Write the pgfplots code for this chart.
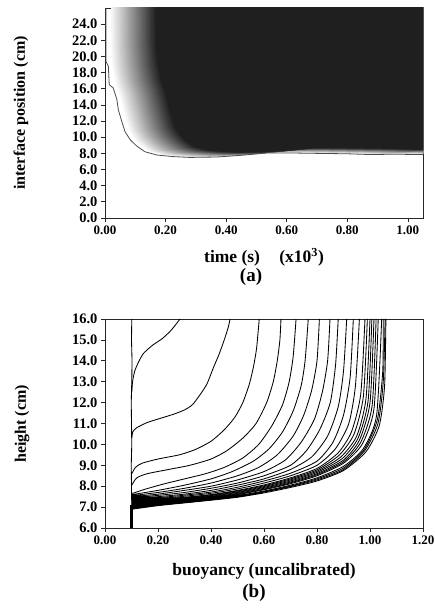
\documentclass[border=0pt]{standalone}
\usepackage{pgfplots}
\usepackage{pgfplotstable}
\pgfplotsset{compat=1.18}
\usepackage{fontspec}
\setmainfont{Liberation Serif}

% boundary of the dark (upper-layer) region, slightly smoothed
\pgfplotstableread{
x y
0.003 30
0.004 21
0.010 18.5
0.020 16.6
0.033 15.2
0.045 13.4
0.055 12.0
0.066 10.7
0.083 9.7
0.105 8.9
0.132 8.2
0.171 7.8
0.225 7.6
0.28 7.5
0.369 7.55
0.446 7.75
0.534 8.05
0.61 8.05
0.70 8.0
0.80 7.95
0.88 7.85
0.95 7.9
1.05 7.85
1.2 7.85
1.2 30
}\region

\pgfplotstableread{
x y
0.003 26
0.003 19.4
0.011 18.8
0.014 16.5
0.027 16.1
0.039 14.7
0.044 13.4
0.055 12.0
0.066 10.7
0.083 9.7
0.105 8.9
0.132 8.2
0.171 7.8
0.225 7.6
0.28 7.5
0.369 7.55
0.446 7.75
0.534 8.05
0.61 8.05
0.70 8.0
0.80 7.95
0.88 7.85
0.95 7.9
1.05 7.85
}\interface

\pgfplotsset{
  myaxis/.style={
    scale only axis, width=318pt,
    axis line style={line width=0.9pt, black!85},
    tick align=outside, xtick pos=bottom, ytick pos=left,
    major tick length=4pt,
    every tick/.style={black!85, line width=0.7pt},
    /pgf/number format/assume math mode=true,
    xticklabel style={font=\fontsize{13}{13}\selectfont\bfseries, /pgf/number format/.cd, fixed, fixed zerofill, precision=2},
    yticklabel style={font=\fontsize{14.5}{14.5}\selectfont\bfseries, /pgf/number format/.cd, fixed, fixed zerofill, precision=1},
    anchor=south west,
  },
  prof/.style={black, line width=0.85pt, smooth, tension=0.4},
}

\begin{document}
\begin{tikzpicture}
\useasboundingbox (0pt,0pt) rectangle (435pt,609pt);

% ---------- panel (a) ----------
\begin{axis}[myaxis, at={(105pt,391pt)}, height=210pt,
  xmin=0, xmax=1.05, ymin=0, ymax=26,
  xtick={0,0.2,0.4,0.6,0.8,1.0}, ytick={0,2,...,24}]
\pgfplotsinvokeforeach{1,...,22}{
  \addplot[draw=none, fill=black!\the\numexpr 4*#1\relax, xshift=#1*2.1pt+3pt, yshift=#1*0.22pt] table {\region};
}
\addplot[black!70, line width=0.8pt] table {\interface};
\end{axis}

\node[font=\fontsize{16}{16}\selectfont\bfseries, rotate=90] at (21pt,496pt) {interface position (cm)};
\node[font=\fontsize{17.5}{17.5}\selectfont\bfseries] at (264pt,352pt) {time (s)\hspace{1.1em}(x10\textsuperscript{3})};
\node[font=\fontsize{19}{19}\selectfont\bfseries] at (251pt,332pt) {(a)};

% ---------- panel (b) ----------
\begin{axis}[myaxis, at={(105pt,81pt)}, height=209pt,
  xmin=0, xmax=1.2, ymin=6, ymax=16,
  xtick={0,0.2,...,1.2}, ytick={6,7,...,16}]
% dense overlap of the early-time profiles
\addplot[fill=black, draw=none] coordinates {(0.1,6.9)(0.2,7.07)(0.3,7.2)(0.4,7.33)(0.5,7.47)(0.6,7.68)(0.5,7.6)(0.4,7.52)(0.3,7.47)(0.2,7.47)(0.14,7.55)(0.115,7.62)(0.1,7.62)};
\addplot[black, line width=0.85pt] coordinates {(0.100,6.0)(0.098,6.5)(0.101,7.0)(0.100,8.0)(0.099,9.0)(0.101,10.0)(0.100,11.0)(0.099,12.0)(0.101,13.0)(0.102,14.0)(0.100,15.0)(0.101,16.0)};
\addplot[black, line width=2.2pt] coordinates {(0.100,6.0)(0.100,7.1)};
\addplot[prof] coordinates {(0.101,12.5)(0.104,13.0)(0.112,13.5)(0.125,13.9)(0.145,14.35)(0.18,14.75)(0.215,15.05)(0.245,15.4)(0.265,15.7)(0.283,16.0)};
\addplot[prof] coordinates {(0.101,10.3)(0.105,10.6)(0.12,10.8)(0.16,11.05)(0.21,11.25)(0.26,11.45)(0.3,11.65)(0.33,11.9)(0.36,12.4)(0.385,12.9)(0.41,13.7)(0.43,14.3)(0.45,15.0)(0.465,15.6)(0.472,16.0)};
\addplot[prof] coordinates {(0.101,8.6)(0.115,8.9)(0.14,9.1)(0.2,9.3)(0.28,9.5)(0.34,9.75)(0.4,10.15)(0.45,10.7)(0.49,11.3)(0.52,12.0)(0.545,12.9)(0.56,13.7)(0.572,14.6)(0.582,16.0)};
\addplot[prof] coordinates {(0.101,8.05)(0.12,8.4)(0.16,8.6)(0.24,8.8)(0.32,9.0)(0.4,9.3)(0.46,9.7)(0.52,10.3)(0.57,11.0)(0.61,12.0)(0.635,13.0)(0.65,14.0)(0.66,15.0)(0.664,16.0)};
\addplot[prof] coordinates {(0.103,7.65)(0.15,7.85)(0.22,8.1)(0.3,8.35)(0.38,8.6)(0.45,8.9)(0.52,9.35)(0.58,10.0)(0.63,10.9)(0.67,11.9)(0.695,13.0)(0.71,14.2)(0.721,16.0)};
\addplot[prof] coordinates {(0.103,7.6)(0.2,7.8)(0.3,8.05)(0.4,8.35)(0.48,8.7)(0.56,9.2)(0.62,9.8)(0.67,10.6)(0.71,11.6)(0.74,12.8)(0.755,14.0)(0.767,16.0)};
\addplot[prof] coordinates {(0.103,7.55)(0.2,7.7)(0.3,7.9)(0.4,8.15)(0.5,8.5)(0.58,8.9)(0.65,9.5)(0.71,10.4)(0.75,11.4)(0.78,12.6)(0.8,14.0)(0.809,16.0)};
\addplot[prof] coordinates {(0.103,7.5)(0.2,7.62)(0.3,7.8)(0.4,8.0)(0.5,8.3)(0.6,8.7)(0.68,9.25)(0.74,10.1)(0.79,11.2)(0.82,12.5)(0.84,14.0)(0.849,16.0)};
\addplot[prof] coordinates {(0.103,7.45)(0.2,7.56)(0.3,7.7)(0.4,7.9)(0.5,8.15)(0.6,8.5)(0.7,9.0)(0.76,9.7)(0.81,10.7)(0.85,12.0)(0.87,13.8)(0.88,16.0)};
\addplot[prof] coordinates {(0.103,7.4)(0.2,7.5)(0.3,7.62)(0.4,7.8)(0.5,8.05)(0.6,8.35)(0.7,8.8)(0.78,9.4)(0.84,10.4)(0.88,11.8)(0.9,13.5)(0.912,16.0)};
\addplot[prof] coordinates {(0.103,7.35)(0.2,7.45)(0.3,7.57)(0.4,7.72)(0.5,7.95)(0.6,8.25)(0.7,8.62)(0.8,9.2)(0.86,10.1)(0.9,11.4)(0.925,13.2)(0.937,16.0)};
\addplot[prof] coordinates {(0.103,7.3)(0.2,7.4)(0.3,7.52)(0.4,7.66)(0.5,7.87)(0.6,8.15)(0.7,8.5)(0.8,9.0)(0.87,9.8)(0.92,11.0)(0.945,12.8)(0.96,16.0)};
\addplot[prof] coordinates {(0.103,7.25)(0.2,7.35)(0.3,7.47)(0.4,7.6)(0.5,7.8)(0.6,8.06)(0.7,8.4)(0.8,8.85)(0.88,9.6)(0.93,10.6)(0.965,12.4)(0.981,16.0)};
\addplot[prof] coordinates {(0.103,7.2)(0.2,7.32)(0.3,7.45)(0.4,7.58)(0.5,7.77)(0.6,8.02)(0.7,8.35)(0.8,8.78)(0.885,9.5)(0.94,10.5)(0.975,12.3)(0.99,16.0)};
\addplot[prof] coordinates {(0.103,7.15)(0.2,7.3)(0.3,7.42)(0.4,7.55)(0.5,7.73)(0.6,7.98)(0.7,8.3)(0.8,8.72)(0.89,9.4)(0.95,10.4)(0.985,12.2)(1.0,16.0)};
\addplot[prof] coordinates {(0.103,7.12)(0.2,7.27)(0.3,7.4)(0.4,7.52)(0.5,7.7)(0.6,7.94)(0.7,8.25)(0.8,8.66)(0.895,9.32)(0.955,10.3)(0.993,12.1)(1.007,16.0)};
\addplot[prof] coordinates {(0.103,7.1)(0.2,7.25)(0.3,7.37)(0.4,7.49)(0.5,7.66)(0.6,7.9)(0.7,8.2)(0.8,8.6)(0.9,9.25)(0.96,10.2)(1.0,12.0)(1.015,16.0)};
\addplot[prof] coordinates {(0.103,7.07)(0.2,7.22)(0.3,7.35)(0.4,7.47)(0.5,7.63)(0.6,7.86)(0.7,8.16)(0.8,8.55)(0.9,9.17)(0.965,10.1)(1.008,11.85)(1.023,16.0)};
\addplot[prof] coordinates {(0.103,7.05)(0.2,7.2)(0.3,7.32)(0.4,7.44)(0.5,7.6)(0.6,7.83)(0.7,8.12)(0.8,8.5)(0.9,9.1)(0.97,10.0)(1.015,11.7)(1.031,16.0)};
\addplot[prof] coordinates {(0.103,7.0)(0.2,7.15)(0.3,7.27)(0.4,7.39)(0.5,7.55)(0.6,7.77)(0.7,8.05)(0.8,8.4)(0.9,8.95)(0.975,9.8)(1.025,11.4)(1.044,16.0)};
\addplot[prof] coordinates {(0.103,6.97)(0.2,7.12)(0.3,7.25)(0.4,7.37)(0.5,7.52)(0.6,7.74)(0.7,8.01)(0.8,8.35)(0.9,8.87)(0.978,9.75)(1.028,11.2)(1.048,13.5)(1.05,16.0)};
\addplot[prof] coordinates {(0.103,6.95)(0.2,7.1)(0.3,7.22)(0.4,7.35)(0.5,7.5)(0.6,7.72)(0.7,7.98)(0.8,8.3)(0.9,8.8)(0.98,9.7)(1.03,11.0)(1.05,13.0)(1.057,16.0)};
\addplot[prof] coordinates {(0.103,6.9)(0.2,7.07)(0.3,7.2)(0.4,7.33)(0.5,7.47)(0.6,7.68)(0.7,7.94)(0.8,8.25)(0.9,8.75)(0.985,9.65)(1.035,10.9)(1.055,12.8)(1.06,16.0)};
\end{axis}

\node[font=\fontsize{16}{16}\selectfont\bfseries, rotate=90] at (22pt,185pt) {height (cm)};
\node[font=\fontsize{17.5}{17.5}\selectfont\bfseries] at (264pt,38pt) {buoyancy (uncalibrated)};
\node[font=\fontsize{19}{19}\selectfont\bfseries] at (254pt,16pt) {(b)};
\end{tikzpicture}
\end{document}
